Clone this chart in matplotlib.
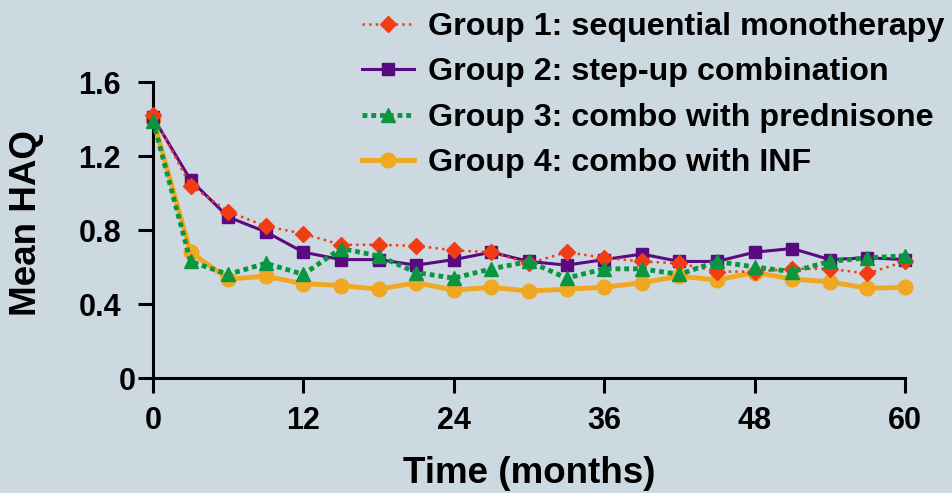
import matplotlib
matplotlib.use("Agg")
import matplotlib.pyplot as plt
import matplotlib.transforms as mtransforms

plt.rcParams['font.family'] = ['Liberation Sans', 'DejaVu Sans']
plt.rcParams['font.weight'] = 'bold'

# Mean HAQ by visit, months 0-60
months = [0, 3, 6, 9, 12, 15, 18, 21, 24, 27, 30, 33, 36, 39, 42, 45, 48, 51, 54, 57, 60]
group1 = [1.42, 1.04, 0.90, 0.82, 0.78, 0.72, 0.72, 0.715, 0.69, 0.68, 0.62, 0.68,
          0.65, 0.63, 0.62, 0.575, 0.575, 0.59, 0.59, 0.565, 0.63]
group2 = [1.41, 1.07, 0.87, 0.79, 0.68, 0.64, 0.64, 0.61, 0.64, 0.68, 0.63, 0.61,
          0.64, 0.67, 0.63, 0.63, 0.68, 0.70, 0.64, 0.65, 0.64]
group3 = [1.39, 0.63, 0.56, 0.62, 0.56, 0.70, 0.66, 0.57, 0.54, 0.59, 0.63, 0.54,
          0.59, 0.59, 0.56, 0.63, 0.60, 0.575, 0.63, 0.65, 0.66]
group4 = [1.40, 0.68, 0.535, 0.55, 0.51, 0.50, 0.48, 0.515, 0.475, 0.49, 0.47, 0.48,
          0.49, 0.515, 0.55, 0.53, 0.57, 0.535, 0.52, 0.485, 0.49]
labels = ["Group 1: sequential monotherapy", "Group 2: step-up combination",
          "Group 3: combo with prednisone", "Group 4: combo with INF"]

bg = '#cdd9e1'
fig = plt.figure(figsize=(9.53, 4.93), dpi=100, facecolor=bg)
ax = fig.add_axes([153/953, 1 - 378/493, 752/953, 296/493], facecolor=bg)

l1, = ax.plot(months, group1, color='#f23c14', ls=':', lw=1.8, marker='D', ms=8.5,
              zorder=4, clip_on=False)
l2, = ax.plot(months, group2, color='#5a0a80', ls='-', lw=2.2, marker='s', ms=9,
              zorder=3, clip_on=False)
l3, = ax.plot(months, group3, color='#0a9640', ls=(0, (1, 0.8)), lw=3.5, marker='^', ms=10.5,
              zorder=5, clip_on=False)
l4, = ax.plot(months, group4, color='#f0a823', ls='-', lw=3.5, marker='o', ms=10.5,
              zorder=2, clip_on=False)

ax.set_xlim(0, 60)
ax.set_ylim(0, 1.6)
ax.set_xticks(range(0, 61, 12))
ax.set_yticks([0, 0.4, 0.8, 1.2, 1.6])
ax.set_yticklabels(['0', '0.4', '0.8', '1.2', '1.6'])

for side in ['top', 'right']:
    ax.spines[side].set_visible(False)
for side in ['left', 'bottom']:
    ax.spines[side].set_linewidth(2.2)
ax.tick_params(width=2.2, length=11, labelsize=22)
ax.tick_params(axis='x', pad=9)
ax.tick_params(axis='y', pad=12)

# the zero label sits right against its tick
zero_lbl = ax.get_yticklabels()[0]
zero_lbl.set_transform(zero_lbl.get_transform() +
                       mtransforms.ScaledTranslation(15/100, 0, fig.dpi_scale_trans))

ax.set_xlabel("Time (months)", fontsize=26.5, fontweight='bold')
ax.xaxis.set_label_coords(0.5, -0.262)
ax.set_ylabel("Mean HAQ", fontsize=26.5, fontweight='bold')
ax.yaxis.set_label_coords(-0.145, 0.524)

fig.legend([l1, l2, l3, l4], labels, loc='upper left',
           bbox_to_anchor=(362/953, 1 - 12/493), frameon=False,
           prop={'weight': 'bold', 'size': 23.2}, borderpad=0, borderaxespad=0,
           handlelength=1.6, handletextpad=0.45, labelspacing=0.48)

fig.savefig("out.png", dpi=100, facecolor=bg)
